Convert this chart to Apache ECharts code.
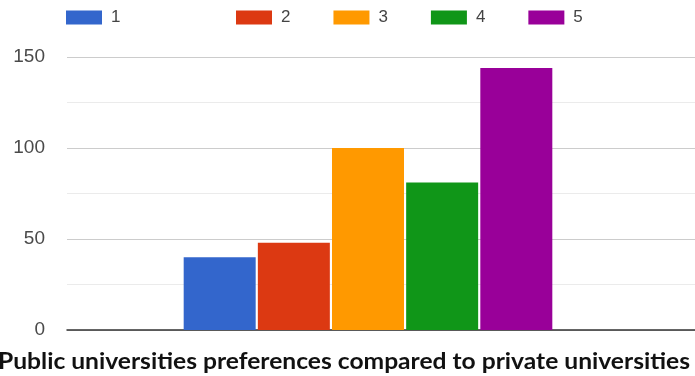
<!DOCTYPE html>
<html>
<head>
<meta charset="utf-8">
<script src="https://cdn.jsdelivr.net/npm/echarts@6/dist/echarts.min.js"></script>
<style>
html,body{margin:0;padding:0;background:#fff;}
#chart{width:695px;height:376px;}
</style>
</head>
<body>
<div id="chart"></div>
<script>
// ---- data ----
const seriesNames = ['1', '2', '3', '4', '5'];
const seriesValues = [40, 48, 100, 81, 144];
const categories = ['Public universities preferences compared to private universities'];
const yTicks = [0, 50, 100, 150];
const colors = ['#3366cc', '#dc3912', '#ff9900', '#109618', '#990099'];
const titleText = categories[0];

const chart = echarts.init(document.getElementById('chart'), null, {renderer: 'canvas'});

// measure title for horizontal scaling
const titleFont = 'bold 23px Lato, "Open Sans", sans-serif';
const cv = document.createElement('canvas').getContext('2d');
cv.font = titleFont;
const tw = cv.measureText(titleText).width;
const targetW = 692;
const sx = targetW / tw;

const yMin = yTicks[0], yMax = yTicks[yTicks.length - 1];
const yInterval = yTicks[1] - yTicks[0];

const legendCommon = {
  top: 4,
  itemWidth: 36,
  itemHeight: 14,
  icon: 'rect',
  textStyle: {fontSize: 17, color: '#444', padding: [0, 0, 0, 4], fontFamily: 'Arial, "Liberation Sans", sans-serif'},
  selectedMode: false
};

const option = {
  animation: false,
  backgroundColor: '#fff',
  legend: [
    Object.assign({}, legendCommon, {left: 61, data: [seriesNames[0]]}),
    Object.assign({}, legendCommon, {left: 231, itemGap: 43, data: seriesNames.slice(1)})
  ],
  grid: [
    {left: 67, right: 0, top: 57, bottom: 46},
    {left: 67, right: 26, top: 57, bottom: 46}
  ],
  xAxis: [
    {
      type: 'category', gridIndex: 0, data: categories,
      axisLine: {show: true, lineStyle: {color: '#333', width: 1.5}},
      axisTick: {show: false}, axisLabel: {show: false}
    },
    {
      type: 'category', gridIndex: 1, data: categories,
      axisLine: {show: false}, axisTick: {show: false}, axisLabel: {show: false}
    }
  ],
  yAxis: [
    {
      type: 'value', gridIndex: 0, min: yMin, max: yMax, interval: yInterval,
      axisLine: {show: false}, axisTick: {show: false},
      axisLabel: {fontSize: 19, color: '#4a4a4a', margin: 22, fontFamily: 'Arial, "Liberation Sans", sans-serif'},
      splitLine: {show: true, lineStyle: {color: '#cccccc', width: 1}},
      minorTick: {show: false, splitNumber: 2},
      minorSplitLine: {show: true, lineStyle: {color: '#ebebeb', width: 1}}
    },
    {
      type: 'value', gridIndex: 1, min: yMin, max: yMax, interval: yInterval,
      axisLine: {show: false}, axisTick: {show: false}, axisLabel: {show: false},
      splitLine: {show: false}
    }
  ],
  series: seriesNames.map((n, i) => ({
    name: n,
    type: 'bar',
    xAxisIndex: 1,
    yAxisIndex: 1,
    data: [seriesValues[i]],
    barWidth: 72,
    barGap: '3%',
    itemStyle: {color: colors[i]},
    z: 3
  })),
  graphic: [{
    type: 'text',
    x: -2,
    y: 350,
    scaleX: sx,
    style: {
      text: titleText,
      font: titleFont,
      fill: '#111'
    }
  }]
};
chart.setOption(option);
</script>
</body>
</html>
